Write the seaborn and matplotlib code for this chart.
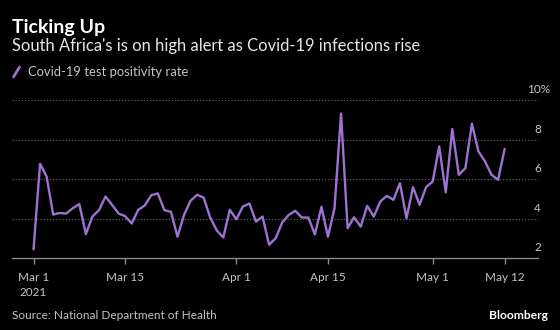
import matplotlib
matplotlib.use("Agg")
import matplotlib.pyplot as plt
import matplotlib.transforms as mtransforms
from matplotlib import font_manager
import seaborn as sns
import pandas as pd

# ---------------- data ----------------
start_date = "2021-03-01"
positivity = [
    2.44, 6.77, 6.12, 4.20, 4.28, 4.25, 4.52, 4.73, 3.21, 4.10,
    4.42, 5.11, 4.69, 4.25, 4.12, 3.75, 4.44, 4.66, 5.18, 5.27,
    4.42, 4.34, 3.08, 4.18, 4.90, 5.20, 5.06, 4.05, 3.40, 3.04,
    4.44, 3.96, 4.61, 4.76, 3.84, 4.10, 2.67, 3.00, 3.79, 4.18,
    4.39, 4.05, 4.05, 3.19, 4.59, 3.08, 4.52, 9.31, 3.51, 4.06,
    3.59, 4.64, 4.10, 4.86, 5.15, 4.94, 5.79, 4.01, 5.59, 4.69,
    5.59, 5.87, 7.65, 5.32, 8.53, 6.21, 6.55, 8.80, 7.40, 6.89,
    6.21, 5.96, 7.52,
]
tick_dates = ["2021-03-01", "2021-03-15", "2021-04-01", "2021-04-15", "2021-05-01", "2021-05-12"]
tick_labels = ["Mar 1", "Mar 15", "Apr 1", "Apr 15", "May 1", "May 12"]
year_label = "2021"
y_ticks = [2, 4, 6, 8, 10]
y_tick_labels = ["2", "4", "6", "8", "10%"]

title = "Ticking Up"
subtitle = "South Africa's is on high alert as Covid-19 infections rise"
legend_label = "Covid-19 test positivity rate"
source = "Source: National Department of Health"
brand = "Bloomberg"

df = pd.DataFrame({
    "date": pd.date_range(start_date, periods=len(positivity), freq="D"),
    "rate": positivity,
})

# ---------------- style ----------------
sns.set_theme(style="dark")
available = {f.name for f in font_manager.fontManager.ttflist}
font = "DejaVu Sans"
for cand in ["Lato", "Roboto", "Open Sans"]:
    if cand in available:
        font = cand
        break
plt.rcParams["font.family"] = [font, "DejaVu Sans"]

BG = "#000000"
LINE = "#9E72D2"
GRID = "#5c5c5c"
TICK = "#c4c4c4"

W, H = 560, 330
fig = plt.figure(figsize=(W / 100, H / 100), dpi=100, facecolor=BG)
renderer = fig.canvas.get_renderer()

def fx(px):
    return px / W

def fy(py):
    return 1 - py / H

def fit(txt, target_px):
    """Scale a text's font size so its rendered width matches target_px."""
    for _ in range(3):
        w = txt.get_window_extent(renderer=renderer).width
        if w > 0:
            txt.set_fontsize(txt.get_fontsize() * target_px / w)
    return txt.get_fontsize()

ax_left, ax_right, ax_top, ax_bottom = 12, 538, 100, 258
ax = fig.add_axes([fx(ax_left), fy(ax_bottom), fx(ax_right - ax_left), (ax_bottom - ax_top) / H])
ax.set_facecolor(BG)

sns.lineplot(data=df, x="date", y="rate", ax=ax, color=LINE, linewidth=1.7, legend=False)

d0 = pd.Timestamp(start_date)
ax.set_xlim(d0 - pd.Timedelta(days=3.29), d0 + pd.Timedelta(days=77.1))
ax.set_ylim(2, 10)

for v in y_ticks[1:]:
    ax.axhline(v, color=GRID, linestyle=(0, (1, 1.5)), linewidth=0.9, zorder=0)
for s in ["top", "right", "left"]:
    ax.spines[s].set_visible(False)
ax.spines["bottom"].set_color("#8a8a8a")
ax.spines["bottom"].set_linewidth(1.0)
ax.grid(False)

ax.set_xticks(pd.to_datetime(tick_dates))
ax.set_xticklabels([])
ax.tick_params(axis="x", length=4, width=1, color="#8a8a8a", bottom=True)
ax.set_yticks([])
ax.set_xlabel("")
ax.set_ylabel("")

# tick label size from "Mar 15" width in reference (~38 px)
probe = fig.text(0, 0, "Mar 15", fontsize=9)
tick_fs = fit(probe, 38)
probe.remove()

xtrans = mtransforms.blended_transform_factory(ax.transData, fig.transFigure)
for d, lab in zip(pd.to_datetime(tick_dates), tick_labels):
    ax.text(d, fy(281), lab, transform=xtrans, ha="center", va="baseline",
            color=TICK, fontsize=tick_fs, clip_on=False)
ax.text(pd.Timestamp(tick_dates[0]), fy(296), year_label, transform=xtrans,
        ha="center", va="baseline", color=TICK, fontsize=tick_fs, clip_on=False)

# y tick labels on the right, sitting above gridlines
base = mtransforms.blended_transform_factory(fig.transFigure, ax.transData)
trans = mtransforms.offset_copy(base, fig=fig, x=0, y=4.75, units="points")
for v, lab in zip(y_ticks, y_tick_labels):
    if lab.endswith("%"):
        ax.text(fx(527), v, lab, transform=trans, ha="left", va="baseline",
                color=TICK, fontsize=tick_fs, clip_on=False)
    else:
        ax.text(fx(541), v, lab, transform=trans, ha="right", va="baseline",
                color=TICK, fontsize=tick_fs, clip_on=False)

# titles
t = fig.text(fx(12), fy(33.3), title, color="white", fontsize=12, fontweight="bold",
             ha="left", va="baseline")
fit(t, 93)
t = fig.text(fx(12), fy(51), subtitle, color="#e6e6e6", fontsize=12,
             ha="left", va="baseline")
fit(t, 408)

# legend
fig.add_artist(plt.Line2D([fx(13.5), fx(19.5)], [fy(77), fy(67)], color=LINE, linewidth=2))
t = fig.text(fx(28), fy(76.5), legend_label, color=TICK, fontsize=9, ha="left", va="baseline")
fit(t, 162)

# footer
t = fig.text(fx(12.5), fy(319), source, color=TICK, fontsize=9, ha="left", va="baseline")
fit(t, 203)
t = fig.text(fx(548), fy(319), brand, color="white", fontsize=9.5, fontweight="bold",
             ha="right", va="baseline")
fit(t, 59)

fig.savefig("out.png", dpi=100, facecolor=BG)
